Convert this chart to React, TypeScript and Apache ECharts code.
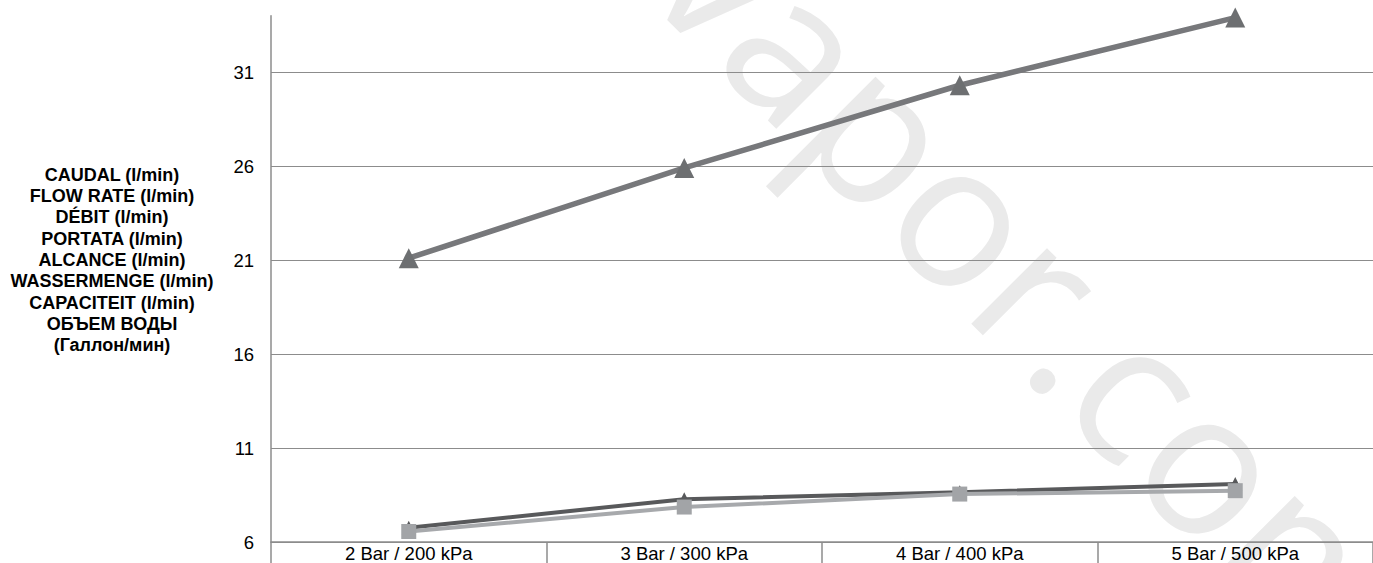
import React, { useEffect, useRef } from "react";
import * as echarts from "echarts";

const categories = ["2 Bar / 200 kPa", "3 Bar / 300 kPa", "4 Bar / 400 kPa", "5 Bar / 500 kPa"];
const seriesTop = [21.1, 25.9, 30.3, 33.9];
const seriesDark = [6.76, 8.28, 8.65, 9.08];
const seriesLight = [6.56, 7.86, 8.55, 8.73];
const yMin = 6;
const yMax = 34;
const yInterval = 5;
const titleLines = [
  "CAUDAL (l/min)",
  "FLOW RATE (l/min)",
  "DÉBIT (l/min)",
  "PORTATA (l/min)",
  "ALCANCE (l/min)",
  "WASSERMENGE (l/min)",
  "CAPACITEIT (l/min)",
  "ОБЪЕМ ВОДЫ",
  "(Галлон/мин)",
];
const watermark = "vapor.com";

export default function App() {
  const ref = useRef<HTMLDivElement>(null);
  useEffect(() => {
    if (!ref.current) return;
    const chart = echarts.init(ref.current, null, { renderer: "svg" });
    const font = "'Liberation Sans', Arial, sans-serif";
    chart.setOption({
      animation: false,
      textStyle: { fontFamily: font },
      grid: { left: 271, right: -8.5, top: 15.7, bottom: 20, containLabel: false },
      graphic: [
        {
          type: "text",
          z: -10,
          x: 1043,
          y: 286,
          rotation: -Math.PI / 4,
          style: {
            text: watermark,
            fontFamily: "'Open Sans', sans-serif",
            fontSize: 200,
            fill: "#eaeaea",
            textAlign: "center",
            textVerticalAlign: "middle",
          },
        },
        {
          type: "text",
          x: 112,
          y: 260,
          style: {
            text: titleLines.join("\n"),
            fontFamily: font,
            fontWeight: "bold",
            fontSize: 18,
            lineHeight: 21.3,
            fill: "#000",
            textAlign: "center",
            textVerticalAlign: "middle",
          },
        },
      ],
      xAxis: {
        type: "category",
        data: categories,
        boundaryGap: true,
        axisLine: { show: true, lineStyle: { color: "#8c8c8c", width: 1.5 } },
        axisTick: { show: true, length: 22, lineStyle: { color: "#8c8c8c", width: 1.5 } },
        axisLabel: { color: "#000", fontSize: 18.5, margin: 2, fontFamily: font },
        splitLine: { show: false },
      },
      yAxis: {
        type: "value",
        min: yMin,
        max: yMax,
        interval: yInterval,
        axisLine: { show: true, lineStyle: { color: "#8c8c8c", width: 1.5 } },
        axisTick: { show: false },
        axisLabel: { color: "#000", fontSize: 18.5, margin: 17, showMaxLabel: false, fontFamily: font },
        splitLine: { show: true, showMaxLine: false, lineStyle: { color: "#8c8c8c", width: 1.2 } },
      },
      series: [
        {
          type: "line",
          data: seriesTop,
          symbol: "triangle",
          symbolSize: 20,
          lineStyle: { color: "#77787b", width: 5.5 },
          itemStyle: { color: "#6d6f71" },
          z: 3,
        },
        {
          type: "line",
          data: seriesDark,
          symbol: "triangle",
          symbolSize: 14,
          lineStyle: { color: "#58595b", width: 4 },
          itemStyle: { color: "#58595b" },
          z: 4,
        },
        {
          type: "line",
          data: seriesLight,
          symbol: "rect",
          symbolSize: 15,
          lineStyle: { color: "#a7a9ac", width: 4 },
          itemStyle: { color: "#a2a4a7" },
          z: 5,
        },
      ],
    });
    return () => chart.dispose();
  }, []);
  return (
    <div
      ref={ref}
      style={{ position: "fixed", left: 0, top: 0, width: 1373, height: 563, background: "#fff" }}
    />
  );
}
